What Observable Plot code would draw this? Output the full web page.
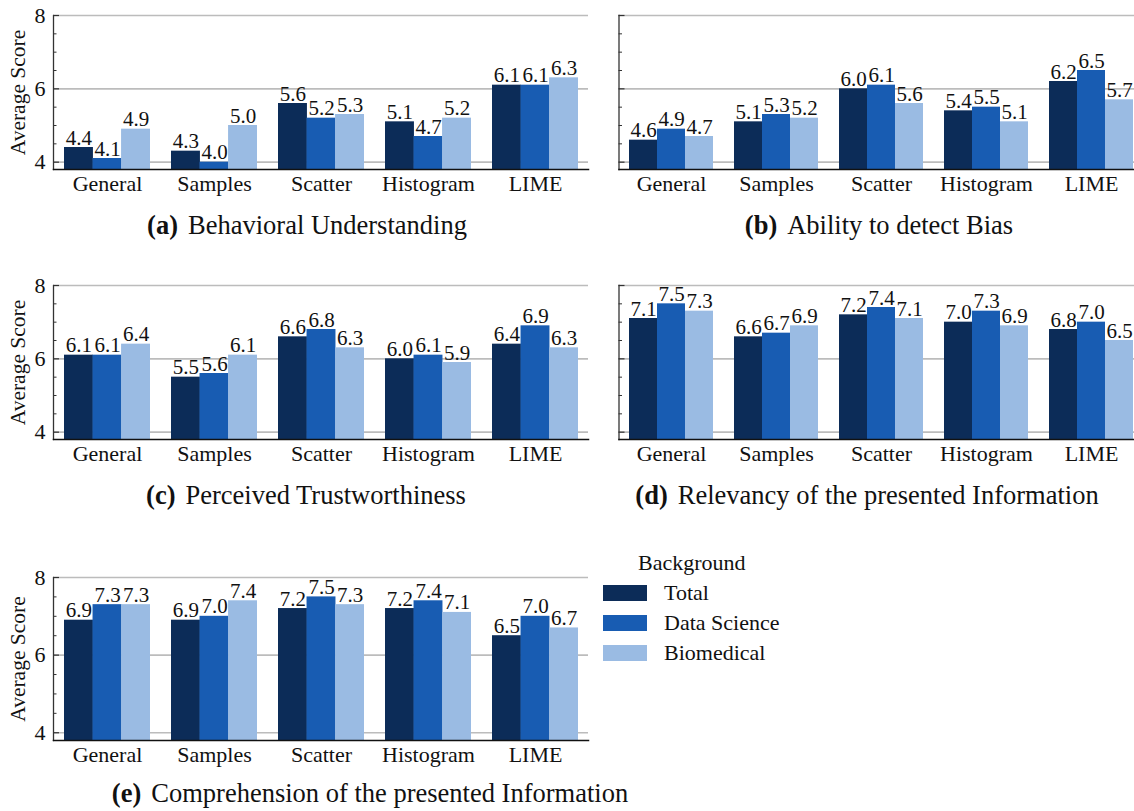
<!DOCTYPE html>
<html>
<head>
<meta charset="utf-8">
<script src="https://cdn.jsdelivr.net/npm/d3@7"></script>
<script src="https://cdn.jsdelivr.net/npm/@observablehq/plot@0.6"></script>
<style>
  html, body { margin: 0; padding: 0; background: #fff; overflow: hidden; }
  #fig { position: relative; width: 1134px; height: 811px; overflow: hidden;
         font-family: "Liberation Serif", "DejaVu Serif", serif; color: #111; }
  .panel { position: absolute; }
  .caption { position: absolute; font-size: 26.5px; line-height: 26.5px; white-space: nowrap;
             transform: translateX(-50%); }
  .caption b { font-weight: bold; margin-right: 10px; }
  .legend-title, .legend-label { position: absolute; font-size: 22px; line-height: 22px; white-space: nowrap; }
  .swatch { position: absolute; width: 44px; height: 16px; }
</style>
</head>
<body>
<div id="fig"></div>
<script>
// Categories and groups
const methods = ["General", "Samples", "Scatter", "Histogram", "LIME"];
const backgrounds = ["Total", "Data Science", "Biomedical"];
const colors = ["#0c2c58", "#185cb2", "#9abbe3"];
const yTicks = [4, 6, 8];
const yMinorTicks = [4.5, 5, 5.5, 6.5, 7, 7.5];

// (a) Behavioral Understanding
const behavioralTotal = [4.4, 4.3, 5.6, 5.1, 6.1];
const behavioralDataScience = [4.1, 4.0, 5.2, 4.7, 6.1];
const behavioralBiomedical = [4.9, 5.0, 5.3, 5.2, 6.3];

// (b) Ability to detect Bias
const biasTotal = [4.6, 5.1, 6.0, 5.4, 6.2];
const biasDataScience = [4.9, 5.3, 6.1, 5.5, 6.5];
const biasBiomedical = [4.7, 5.2, 5.6, 5.1, 5.7];

// (c) Perceived Trustworthiness
const trustTotal = [6.1, 5.5, 6.6, 6.0, 6.4];
const trustDataScience = [6.1, 5.6, 6.8, 6.1, 6.9];
const trustBiomedical = [6.4, 6.1, 6.3, 5.9, 6.3];

// (d) Relevancy of the presented Information
const relevancyTotal = [7.1, 6.6, 7.2, 7.0, 6.8];
const relevancyDataScience = [7.5, 6.7, 7.4, 7.3, 7.0];
const relevancyBiomedical = [7.3, 6.9, 7.1, 6.9, 6.5];

// (e) Comprehension of the presented Information
const comprehensionTotal = [6.9, 6.9, 7.2, 7.2, 6.5];
const comprehensionDataScience = [7.3, 7.0, 7.5, 7.4, 7.0];
const comprehensionBiomedical = [7.3, 7.4, 7.3, 7.1, 6.7];

const panels = [
  {tag: "(a)", title: "Behavioral Understanding", series: [behavioralTotal, behavioralDataScience, behavioralBiomedical],
   left: 0, top: 0, ml: 53, fw: 535, mr: 12, mt: 15, fh: 154, showY: true, capX: 307, capBase: 233},
  {tag: "(b)", title: "Ability to detect Bias", series: [biasTotal, biasDataScience, biasBiomedical],
   left: 600, top: 0, ml: 18.5, fw: 525, mr: 6, mt: 15, fh: 154, showY: false, capX: 879, capBase: 233},
  {tag: "(c)", title: "Perceived Trustworthiness", series: [trustTotal, trustDataScience, trustBiomedical],
   left: 0, top: 270, ml: 53, fw: 535, mr: 12, mt: 15, fh: 154, showY: true, capX: 306, capBase: 503},
  {tag: "(d)", title: "Relevancy of the presented Information", series: [relevancyTotal, relevancyDataScience, relevancyBiomedical],
   left: 600, top: 270, ml: 18.5, fw: 525, mr: 6, mt: 15, fh: 154, showY: false, capX: 867, capBase: 503},
  {tag: "(e)", title: "Comprehension of the presented Information", series: [comprehensionTotal, comprehensionDataScience, comprehensionBiomedical],
   left: 0, top: 562, ml: 53, fw: 535, mr: 12, mt: 15, fh: 163, showY: true, capX: 370, capBase: 801}
];

const fig = document.getElementById("fig");

function drawPanel(p) {
  const rows = methods.map((m, i) => {
    const r = {method: m};
    backgrounds.forEach((b, k) => (r[b] = p.series[k][i]));
    return r;
  });
  const bandwidth = (p.fw / 5) * 0.8; // paddingInner 0.2, paddingOuter 0.1
  const sub = bandwidth / 3;
  const mb = 36;
  const width = p.ml + p.fw + p.mr;
  const height = p.mt + p.fh + mb;

  const marks = [Plot.ruleY(yTicks, {stroke: "#bcbcbc", strokeWidth: 1.6})];
  backgrounds.forEach((b, k) => {
    marks.push(Plot.barY(rows, {
      x: "method", y: b, fill: colors[k],
      insetLeft: k * sub, insetRight: (2 - k) * sub, clip: true
    }));
  });
  backgrounds.forEach((b, k) => {
    marks.push(Plot.text(rows, {
      x: "method", y: b, text: (d) => d[b].toFixed(1),
      dx: (k - 1) * sub, dy: -3, lineAnchor: "bottom", fontSize: 21, fill: "#111"
    }));
  });
  // inward ticks on the left spine
  marks.push(Plot.ruleY(yTicks, {insetRight: p.fw - 6, stroke: "#333", strokeWidth: 1.2}));
  marks.push(Plot.ruleY(yMinorTicks, {insetRight: p.fw - 3.5, stroke: "#333", strokeWidth: 1}));
  marks.push(Plot.frame({anchor: "left", stroke: "#333", strokeWidth: 1.3}));
  marks.push(Plot.frame({anchor: "bottom", stroke: "#111", strokeWidth: 1.5}));
  marks.push(Plot.axisX({tickSize: 0, tickPadding: 6, label: null}));
  if (p.showY) {
    marks.push(Plot.axisY({ticks: yTicks, tickFormat: "d", tickSize: 0, tickPadding: 8, label: null}));
    marks.push(Plot.text(["Average Score"], {
      text: (d) => d, frameAnchor: "left", textAnchor: "middle", lineAnchor: "middle",
      rotate: -90, dx: -35, fontSize: 21.5
    }));
  }

  const svg = Plot.plot({
    width, height,
    marginLeft: p.ml, marginRight: p.mr, marginTop: p.mt, marginBottom: mb,
    x: {domain: methods, paddingInner: 0.2, paddingOuter: 0.1, label: null},
    y: {domain: [3.8, 8], label: null, axis: p.showY ? undefined : null},
    style: {fontFamily: "'Liberation Serif', 'DejaVu Serif', serif", fontSize: "22px", color: "#111", maxWidth: "none", background: "transparent"},
    marks
  });

  const div = document.createElement("div");
  div.className = "panel";
  div.style.left = p.left + "px";
  div.style.top = p.top + "px";
  div.style.width = width + "px";
  div.appendChild(svg);
  fig.appendChild(div);

  const cap = document.createElement("div");
  cap.className = "caption";
  cap.style.left = p.capX + "px";
  cap.style.top = (p.capBase - 21) + "px";
  const b = document.createElement("b");
  b.textContent = p.tag;
  cap.appendChild(b);
  cap.appendChild(document.createTextNode(p.title));
  fig.appendChild(cap);
}

panels.forEach(drawPanel);

// Legend
const legendTitle = document.createElement("div");
legendTitle.className = "legend-title";
legendTitle.style.left = "638px";
legendTitle.style.top = "552px";
legendTitle.textContent = "Background";
fig.appendChild(legendTitle);
backgrounds.forEach((b, k) => {
  const cy = 593 + 30 * k;
  const sw = document.createElement("div");
  sw.className = "swatch";
  sw.style.left = "603px";
  sw.style.top = (cy - 8) + "px";
  sw.style.background = colors[k];
  fig.appendChild(sw);
  const lab = document.createElement("div");
  lab.className = "legend-label";
  lab.style.left = "664px";
  lab.style.top = (cy - 11) + "px";
  lab.textContent = b;
  fig.appendChild(lab);
});
</script>
</body>
</html>
